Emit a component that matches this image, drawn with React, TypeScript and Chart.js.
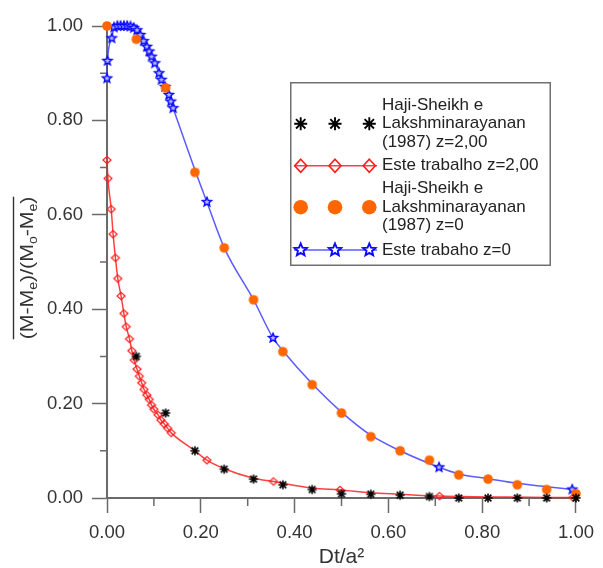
import React, { useEffect, useRef } from 'react';
import { Chart, registerables } from 'chart.js';

Chart.register(...registerables);

// ---------- data ----------
// Haji-Sheikh e Lakshminarayanan (1987) z=2,00  (black asterisks)
const hajiZ2X = [0.0625, 0.125, 0.1875, 0.25, 0.3125, 0.375, 0.4375, 0.5, 0.5625, 0.625, 0.6875, 0.75, 0.8125, 0.875, 0.9375, 1.0];
const hajiZ2Y = [0.300, 0.180, 0.100, 0.061, 0.040, 0.028, 0.018, 0.009, 0.008, 0.006, 0.003, 0.000, 0.000, 0.000, 0.000, 0.000];

// Haji-Sheikh e Lakshminarayanan (1987) z=0  (orange circles)
const hajiZ0X = [0, 0.0625, 0.125, 0.1875, 0.25, 0.3125, 0.375, 0.4375, 0.5, 0.5625, 0.625, 0.6875, 0.75, 0.8125, 0.875, 0.9375, 1.0];
const hajiZ0Y = [1.000, 0.972, 0.869, 0.690, 0.530, 0.420, 0.310, 0.240, 0.180, 0.130, 0.100, 0.080, 0.049, 0.040, 0.028, 0.018, 0.009];

// Este trabalho z=2,00 (red diamonds) - marker points
const trabZ2X = [0, 0.002, 0.009, 0.013, 0.018, 0.023, 0.030, 0.036, 0.041, 0.048, 0.053, 0.058, 0.064, 0.069, 0.074, 0.079, 0.085, 0.090, 0.095, 0.100, 0.109, 0.115, 0.122, 0.129, 0.137, 0.213, 0.355, 0.497, 0.709, 0.994];
const trabZ2Y = [0.716, 0.677, 0.612, 0.559, 0.509, 0.465, 0.428, 0.391, 0.363, 0.337, 0.312, 0.292, 0.273, 0.258, 0.244, 0.230, 0.218, 0.209, 0.197, 0.188, 0.176, 0.165, 0.157, 0.148, 0.138, 0.080, 0.035, 0.017, 0.004, 0.001];
// further points (no marker drawn there)
const trabZ2CurveX = [0.1875, 0.25, 0.3125, 0.4375, 0.5625, 0.625, 0.85];
const trabZ2CurveY = [0.100, 0.062, 0.042, 0.021, 0.011, 0.008, 0.002];

// Este trabaho z=0 (blue stars) - marker points
const trabZ0X = [0, 0.001, 0.010, 0.015, 0.022, 0.029, 0.036, 0.043, 0.050, 0.057, 0.064, 0.071, 0.078, 0.085, 0.090, 0.095, 0.102, 0.111, 0.116, 0.124, 0.132, 0.136, 0.141, 0.213, 0.354, 0.708, 0.992];
const trabZ0Y = [0.889, 0.926, 0.974, 0.997, 1.000, 1.000, 1.000, 1.000, 0.999, 0.996, 0.991, 0.981, 0.968, 0.956, 0.946, 0.935, 0.921, 0.900, 0.886, 0.871, 0.854, 0.840, 0.826, 0.627, 0.339, 0.065, 0.018];
// further points (no marker drawn there)
const trabZ0CurveX = [0.1875, 0.25, 0.3125, 0.375, 0.4375, 0.5, 0.5625, 0.625, 0.75, 0.8125, 0.875, 0.9375];
const trabZ0CurveY = [0.695, 0.530, 0.420, 0.312, 0.242, 0.182, 0.133, 0.100, 0.051, 0.041, 0.031, 0.024];

const xTickStep = 0.2;
const yTickStep = 0.2;
const minorTicks = [0.1, 0.3, 0.5, 0.7, 0.9];

const xTitle = 'Dt/a²';
const yTitleSegments: [string, boolean][] = [
  ['(M-M', false], ['e', true], [')/(M', false], ['o', true], ['-M', false], ['e', true], [')', false],
];
const legendLabels: string[][] = [
  ['Haji-Sheikh e', 'Lakshminarayanan', '(1987) z=2,00'],
  ['Este trabalho z=2,00'],
  ['Haji-Sheikh e', 'Lakshminarayanan', '(1987) z=0'],
  ['Este trabaho z=0'],
];

// ---------- styling ----------
const FONT = '"Liberation Sans", Arial, Helvetica, sans-serif';
const AXIS_COLOR = '#6a6a6a';
const TEXT_COLOR = '#333333';
const RED = '#ff1a1a';
const RED_LINE = 'rgba(255,30,30,0.85)';
const BLUE = '#0a0aff';
const BLUE_LINE = 'rgba(50,50,255,0.8)';
const ORANGE = '#ff6600';

function xy(xs: number[], ys: number[]) {
  return xs.map((x, i) => ({ x, y: ys[i] }));
}
function merged(xs1: number[], ys1: number[], xs2: number[], ys2: number[]) {
  return [...xy(xs1, ys1), ...xy(xs2, ys2)].sort((a, b) => a.x - b.x);
}

// ---------- marker drawing ----------
function drawAsterisk(ctx: CanvasRenderingContext2D, cx: number, cy: number, r: number, lw: number) {
  ctx.save();
  ctx.strokeStyle = '#000';
  ctx.lineWidth = lw;
  ctx.lineCap = 'butt';
  const d = r * 0.72;
  ctx.beginPath();
  ctx.moveTo(cx, cy - r); ctx.lineTo(cx, cy + r);
  ctx.moveTo(cx - r, cy); ctx.lineTo(cx + r, cy);
  ctx.moveTo(cx - d, cy - d); ctx.lineTo(cx + d, cy + d);
  ctx.moveTo(cx - d, cy + d); ctx.lineTo(cx + d, cy - d);
  ctx.stroke();
  ctx.restore();
}
function drawDiamond(ctx: CanvasRenderingContext2D, cx: number, cy: number, rx: number, ry: number, lw: number) {
  ctx.save();
  ctx.strokeStyle = RED;
  ctx.lineWidth = lw;
  ctx.beginPath();
  ctx.moveTo(cx, cy - ry); ctx.lineTo(cx + rx, cy); ctx.lineTo(cx, cy + ry); ctx.lineTo(cx - rx, cy);
  ctx.closePath();
  ctx.stroke();
  ctx.restore();
}
function drawCircle(ctx: CanvasRenderingContext2D, cx: number, cy: number, r: number) {
  ctx.save();
  ctx.fillStyle = ORANGE;
  ctx.beginPath();
  ctx.arc(cx, cy, r, 0, Math.PI * 2);
  ctx.fill();
  ctx.restore();
}
function drawStar(ctx: CanvasRenderingContext2D, cx: number, cy: number, R: number, lw: number, fill: string) {
  const r = R * 0.45;
  ctx.save();
  ctx.beginPath();
  for (let i = 0; i < 10; i++) {
    const a = -Math.PI / 2 + (i * Math.PI) / 5;
    const rad = i % 2 === 0 ? R : r;
    const px = cx + rad * Math.cos(a);
    const py = cy + rad * Math.sin(a);
    if (i === 0) ctx.moveTo(px, py); else ctx.lineTo(px, py);
  }
  ctx.closePath();
  ctx.fillStyle = fill;
  ctx.fill();
  ctx.strokeStyle = BLUE;
  ctx.lineWidth = lw;
  ctx.lineJoin = 'miter';
  ctx.stroke();
  ctx.restore();
}
function makeImg(size: number, draw: (ctx: CanvasRenderingContext2D, c: number) => void) {
  const c = document.createElement('canvas');
  c.width = size;
  c.height = size;
  const ctx = c.getContext('2d')!;
  draw(ctx, size / 2);
  return c;
}

// ---------- plugins ----------
const minorTickPlugin = {
  id: 'minorTicks',
  beforeDatasetsDraw(chart: any) {
    const { ctx, scales } = chart;
    const xs = scales.x, ys = scales.y;
    ctx.save();
    ctx.strokeStyle = AXIS_COLOR;
    ctx.lineWidth = 1.5;
    ctx.beginPath();
    minorTicks.forEach((v) => {
      const py = ys.getPixelForValue(v);
      ctx.moveTo(ys.right - 7, py); ctx.lineTo(ys.right, py);
      const px = xs.getPixelForValue(v);
      ctx.moveTo(px, xs.top); ctx.lineTo(px, xs.top + 8);
    });
    ctx.stroke();
    ctx.restore();
  },
};

const yTitlePlugin = {
  id: 'yTitleCustom',
  afterDraw(chart: any) {
    const { ctx, chartArea } = chart;
    const F = 19, S = 12.5;
    ctx.save();
    ctx.translate(33, (chartArea.top + chartArea.bottom) / 2 + 6);
    ctx.rotate(-Math.PI / 2);
    ctx.scale(1.12, 1);
    let total = 0;
    const widths = yTitleSegments.map(([t, sub]) => {
      ctx.font = `${sub ? S : F}px ${FONT}`;
      const w = ctx.measureText(t).width;
      total += w;
      return w;
    });
    let x = -total / 2;
    ctx.fillStyle = TEXT_COLOR;
    ctx.textBaseline = 'alphabetic';
    ctx.textAlign = 'left';
    yTitleSegments.forEach(([t, sub], i) => {
      ctx.font = `${sub ? S : F}px ${FONT}`;
      ctx.fillText(t, x, sub ? 4 : 0);
      x += widths[i];
    });
    ctx.strokeStyle = TEXT_COLOR;
    ctx.lineWidth = 1.4;
    ctx.beginPath();
    ctx.moveTo(-total / 2, -19.5);
    ctx.lineTo(total / 2, -19.5);
    ctx.stroke();
    ctx.restore();
  },
};

const legendPlugin = {
  id: 'customLegend',
  afterDraw(chart: any) {
    const ctx: CanvasRenderingContext2D = chart.ctx;
    const L = 290, T = 82, W = 261, H = 184;
    ctx.save();
    ctx.fillStyle = '#ffffff';
    ctx.fillRect(L, T, W, H);
    ctx.strokeStyle = '#707070';
    ctx.lineWidth = 1.5;
    ctx.strokeRect(L + 0.75, T + 0.75, W - 1.5, H - 1.5);

    const mx = [300.7, 335, 369.3];
    const tx = 382;
    const lh = 18.5;
    ctx.font = `17px ${FONT}`;
    ctx.fillStyle = '#222222';
    ctx.textBaseline = 'middle';
    ctx.textAlign = 'left';

    const drawLines = (lines: string[], cy: number) => {
      const start = cy - ((lines.length - 1) * lh) / 2;
      lines.forEach((s, i) => ctx.fillText(s, tx, start + i * lh));
    };

    // entry 1: asterisks
    const y1 = 123.8;
    drawLines(legendLabels[0], y1);
    mx.forEach((x) => drawAsterisk(ctx, x, y1, 6.5, 1.9));

    // entry 2: red line + diamonds
    const y2 = 165.7;
    drawLines(legendLabels[1], y2);
    ctx.strokeStyle = RED_LINE;
    ctx.lineWidth = 1.5;
    ctx.beginPath(); ctx.moveTo(294, y2); ctx.lineTo(377, y2); ctx.stroke();
    mx.forEach((x) => drawDiamond(ctx, x, y2, 6, 6.5, 1.6));

    // entry 3: orange circles
    const y3 = 207.2;
    ctx.fillStyle = '#222222';
    drawLines(legendLabels[2], y3);
    mx.forEach((x) => drawCircle(ctx, x, y3, 7.3));

    // entry 4: blue line + stars
    const y4 = 250;
    ctx.fillStyle = '#222222';
    drawLines(legendLabels[3], y4);
    ctx.strokeStyle = BLUE_LINE;
    ctx.lineWidth = 1.5;
    ctx.beginPath(); ctx.moveTo(294, y4); ctx.lineTo(377, y4); ctx.stroke();
    mx.forEach((x) => drawStar(ctx, x, y4, 6.5, 1.9, '#ffffff'));
    ctx.restore();
  },
};

export default function App() {
  const ref = useRef<HTMLCanvasElement | null>(null);

  useEffect(() => {
    const canvas = ref.current;
    if (!canvas) return;

    const astImg = makeImg(14, (c, m) => drawAsterisk(c, m, m, 4.6, 1.6));
    const diaImg = makeImg(14, (c, m) => drawDiamond(c, m, m, 4, 3.6, 1.2));
    const cirImg = makeImg(14, (c, m) => drawCircle(c, m, m, 4.8));
    const starImg = makeImg(14, (c, m) => drawStar(c, m, m, 4.8, 1.4, '#b8b8ff'));

    const tickFont = { family: FONT, size: 18.5 };

    const chart = new Chart(canvas, {
      type: 'scatter',
      data: {
        datasets: [
          {
            label: 'Haji-Sheikh e Lakshminarayanan (1987) z=2,00',
            data: xy(hajiZ2X, hajiZ2Y),
            showLine: false,
            pointStyle: astImg as any,
            pointRadius: 5,
            order: 1,
            clip: false as any,
          },
          {
            label: 'Haji-Sheikh e Lakshminarayanan (1987) z=0',
            data: xy(hajiZ0X, hajiZ0Y),
            showLine: false,
            pointStyle: cirImg as any,
            pointRadius: 5,
            order: 2,
            clip: false as any,
          },
          {
            label: 'Este trabalho z=2,00',
            data: xy(trabZ2X, trabZ2Y),
            showLine: false,
            pointStyle: diaImg as any,
            pointRadius: 5,
            order: 3,
            clip: false as any,
          },
          {
            label: 'Este trabalho z=2,00 (curve)',
            data: merged(trabZ2X, trabZ2Y, trabZ2CurveX, trabZ2CurveY),
            showLine: true,
            pointRadius: 0,
            borderColor: RED_LINE,
            borderWidth: 1.5,
            cubicInterpolationMode: 'monotone',
            order: 4,
            clip: false as any,
          },
          {
            label: 'Este trabaho z=0',
            data: xy(trabZ0X, trabZ0Y),
            showLine: false,
            pointStyle: starImg as any,
            pointRadius: 5,
            order: 5,
            clip: false as any,
          },
          {
            label: 'Este trabaho z=0 (curve)',
            data: merged(trabZ0X, trabZ0Y, trabZ0CurveX, trabZ0CurveY),
            showLine: true,
            pointRadius: 0,
            borderColor: BLUE_LINE,
            borderWidth: 1.5,
            cubicInterpolationMode: 'monotone',
            order: 6,
            clip: false as any,
          },
        ] as any,
      },
      options: {
        responsive: false,
        animation: false,
        events: [],
        layout: { padding: { top: 26, right: 20, left: 0, bottom: 0 } },
        plugins: {
          legend: { display: false },
          tooltip: { enabled: false },
          title: { display: false },
        },
        scales: {
          x: {
            type: 'linear',
            min: 0,
            max: 1,
            border: { display: true, color: AXIS_COLOR, width: 2 },
            grid: {
              display: true,
              drawOnChartArea: false,
              drawTicks: true,
              tickLength: 15,
              tickColor: AXIS_COLOR,
              tickWidth: 1.5,
            },
            ticks: {
              stepSize: xTickStep,
              padding: 9,
              color: TEXT_COLOR,
              font: tickFont,
              maxRotation: 0,
              callback: (v: any) => Number(v).toFixed(2),
            },
            title: {
              display: true,
              text: xTitle,
              color: TEXT_COLOR,
              font: { family: FONT, size: 21, lineHeight: 1 },
              padding: { top: 0, bottom: 0 },
            },
            afterFit: (s: any) => { s.height = 70; },
          },
          y: {
            type: 'linear',
            min: 0,
            max: 1,
            border: { display: true, color: AXIS_COLOR, width: 2 },
            grid: {
              display: true,
              drawOnChartArea: false,
              drawTicks: true,
              tickLength: 15,
              tickColor: AXIS_COLOR,
              tickWidth: 1.5,
            },
            ticks: {
              stepSize: yTickStep,
              padding: 9,
              color: TEXT_COLOR,
              font: tickFont,
              callback: (v: any) => Number(v).toFixed(2),
            },
            afterFit: (s: any) => { s.width = 107; },
          },
        },
      } as any,
      plugins: [minorTickPlugin, yTitlePlugin, legendPlugin],
    });

    return () => chart.destroy();
  }, []);

  return (
    <div style={{ position: 'absolute', left: 0, top: 0, width: 603, height: 568, background: '#ffffff' }}>
      <canvas ref={ref} width={603} height={568} style={{ display: 'block', width: 603, height: 568 }} />
    </div>
  );
}
